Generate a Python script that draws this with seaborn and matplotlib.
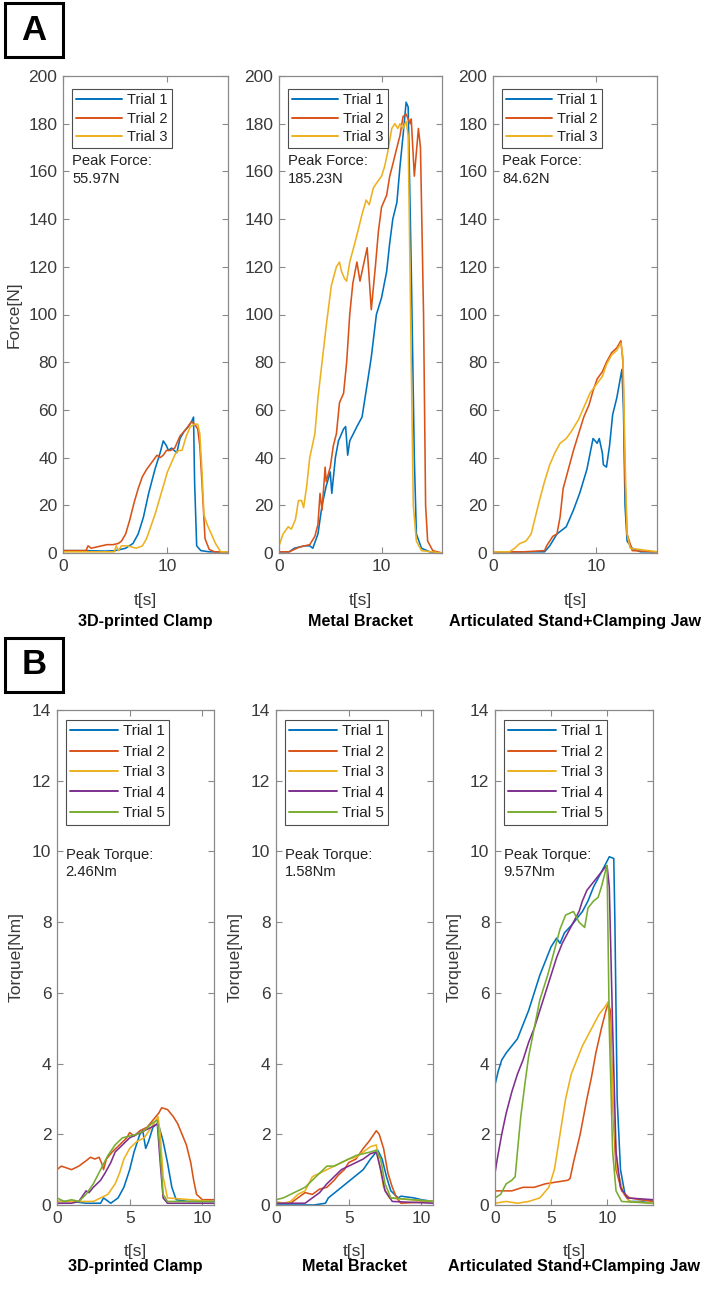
import matplotlib
matplotlib.use("Agg")
import matplotlib.pyplot as plt
import seaborn as sns

# ---- data ----
trial_colors = ["#0072BD", "#D95319", "#EDB120", "#7E2F8E", "#77AC30"]
titles = ["3D-printed Clamp", "Metal Bracket", "Articulated Stand+Clamping Jaw"]
peak_force = ["55.97N", "185.23N", "84.62N"]
peak_torque = ["2.46Nm", "1.58Nm", "9.57Nm"]
force_xlim = [15.8, 15.9, 15.9]
torque_xlim = [10.8, 10.8, 14.1]

# A: force, 3D-printed clamp
clamp_f1_t = [0, 2, 4, 5, 6, 6.7, 7.2, 7.7, 8.2, 8.8, 9.3, 9.6, 9.9, 10.1, 10.4, 10.9, 11.2, 11.6, 12.0, 12.3, 12.5, 12.6, 12.8, 13.2, 14, 15.8]
clamp_f1 = [1, 1, 0.8, 1, 2, 4, 8, 15, 25, 35, 42, 47, 45, 43, 44, 42, 48, 51, 53, 55, 57, 30, 3, 1, 0.5, 0.5]
clamp_f2_t = [0, 2.2, 2.4, 2.7, 3.2, 3.7, 4.2, 4.8, 5.3, 5.6, 6.0, 6.4, 6.8, 7.2, 7.6, 8.0, 8.5, 9.0, 9.3, 9.6, 9.9, 10.3, 10.7, 11.2, 11.8, 12.3, 12.6, 12.9, 13.1, 13.3, 13.6, 14.0, 14.5, 15.8]
clamp_f2 = [1, 1, 3, 2, 2.5, 3, 3.5, 3.5, 4, 5, 8, 14, 21, 27, 32, 35, 38, 41, 40, 41, 43, 43, 44, 49, 52, 55, 54, 52, 45, 30, 6, 1.5, 0.5, 0.5]
clamp_f3_t = [0, 4.9, 5.1, 5.3, 5.6, 6.2, 7.0, 7.6, 8.0, 8.4, 8.8, 9.2, 9.6, 10.0, 10.4, 10.8, 11.1, 11.4, 11.8, 12.2, 12.6, 12.9, 13.1, 13.3, 13.5, 13.8, 14.2, 14.6, 15.1, 15.8]
clamp_f3 = [0.5, 0.5, 3, 1, 3, 3, 2, 3, 6, 11, 16, 22, 28, 34, 38, 42, 43, 43, 49, 53, 54, 54, 50, 35, 16, 12, 8, 4, 0.5, 0.5]

# A: force, metal bracket
bracket_f1_t = [0, 1.0, 1.5, 2.5, 3.0, 3.3, 3.8, 4.2, 4.6, 5.0, 5.15, 5.5, 5.8, 6.3, 6.5, 6.7, 6.9, 7.6, 8.1, 8.5, 9.0, 9.5, 10.0, 10.5, 10.8, 11.1, 11.5, 11.8, 12.1, 12.4, 12.6, 12.9, 13.2, 13.4, 13.9, 14.7, 15.9]
bracket_f1 = [0.5, 0.5, 2, 3, 3, 2, 8, 20, 28, 34, 25, 40, 47, 52, 53, 41, 47, 53, 57, 68, 82, 100, 107, 118, 130, 140, 147, 162, 175, 189, 187, 120, 40, 8, 2, 0.5, 0]
bracket_f2_t = [0, 1.0, 2.0, 3.0, 3.5, 3.8, 4.0, 4.2, 4.5, 4.6, 5.0, 5.3, 5.6, 5.9, 6.3, 6.6, 6.9, 7.2, 7.6, 7.9, 8.2, 8.6, 8.8, 9.0, 9.4, 9.7, 10.0, 10.5, 10.8, 11.1, 11.5, 11.8, 12.1, 12.4, 12.8, 12.9, 13.2, 13.6, 13.8, 14.1, 14.3, 14.5, 15.0, 15.9]
bracket_f2 = [0.5, 0.5, 2.5, 3.5, 7, 12, 25, 18, 36, 30, 36, 45, 50, 63, 67, 80, 100, 113, 122, 114, 120, 128, 115, 102, 120, 135, 145, 150, 158, 163, 170, 175, 183, 184, 180, 182, 158, 178, 170, 100, 20, 5, 1, 0]
bracket_f3_t = [0, 0.4, 0.9, 1.2, 1.6, 1.9, 2.2, 2.4, 2.7, 3.0, 3.5, 3.8, 4.2, 4.6, 5.1, 5.6, 5.9, 6.1, 6.4, 6.6, 6.9, 7.4, 7.7, 8.1, 8.5, 8.8, 9.2, 9.5, 10.0, 10.3, 10.6, 11.0, 11.3, 11.6, 11.8, 12.1, 12.4, 12.6, 12.9, 13.1, 13.4, 13.9, 15.9]
bracket_f3 = [3, 8, 11, 10, 14, 22, 22, 19, 28, 40, 50, 65, 80, 95, 112, 120, 122, 118, 115, 114, 122, 130, 135, 142, 148, 146, 153, 155, 158, 162, 168, 178, 180, 178, 180, 178, 181, 175, 80, 20, 5, 1, 0]

# A: force, articulated stand
stand_f1_t = [0, 5.0, 5.5, 6.2, 7.1, 7.8, 8.4, 9.1, 9.7, 10.1, 10.3, 10.6, 10.7, 11.0, 11.3, 11.6, 12.0, 12.5, 12.65, 12.8, 13.0, 13.5, 14.3, 15.9]
stand_f1 = [0.5, 0.5, 3, 8, 11, 18, 25, 35, 48, 46, 48, 42, 37, 36, 45, 58, 65, 77, 60, 20, 5, 2, 0.5, 0.5]
stand_f2_t = [0, 3.0, 5.0, 5.2, 5.8, 6.2, 6.5, 6.8, 7.3, 7.8, 8.3, 8.8, 9.3, 9.7, 10.1, 10.6, 11.0, 11.5, 12.0, 12.4, 12.6, 12.8, 13.0, 13.5, 15.9]
stand_f2 = [0.5, 0.5, 1, 3, 7, 8, 15, 27, 35, 43, 50, 57, 62, 68, 73, 76, 80, 84, 86, 89, 80, 30, 8, 1, 0.5]
stand_f3_t = [0, 1.6, 2.1, 2.6, 3.2, 3.7, 4.1, 4.5, 5.0, 5.5, 6.0, 6.5, 7.1, 7.6, 8.3, 8.9, 9.4, 9.9, 10.6, 11.0, 11.5, 12.0, 12.4, 12.6, 12.8, 13.0, 13.3, 15.9]
stand_f3 = [0.5, 0.5, 2, 4, 5, 8, 15, 22, 30, 37, 42, 46, 48, 51, 56, 62, 67, 70, 74, 79, 83, 85, 88, 82, 40, 8, 2, 0.5]

# B: torque, 3D-printed clamp
clamp_m1_t = [0, 1, 2, 3.0, 3.2, 3.7, 4.2, 4.6, 5.0, 5.3, 5.7, 5.9, 6.1, 6.3, 6.6, 6.9, 7.0, 7.3, 7.6, 7.9, 8.2, 9, 10.8]
clamp_m1 = [0.1, 0.1, 0.05, 0.05, 0.2, 0.05, 0.2, 0.5, 1.0, 1.5, 2.0, 2.1, 1.6, 1.8, 2.2, 2.3, 2.25, 1.8, 1.2, 0.5, 0.15, 0.1, 0.1]
clamp_m2_t = [0, 0.3, 1.0, 1.5, 2.0, 2.3, 2.6, 2.9, 3.1, 3.2, 3.4, 3.8, 4.3, 4.8, 5.0, 5.3, 5.7, 6.2, 6.6, 7.0, 7.2, 7.6, 8.0, 8.3, 8.6, 8.9, 9.2, 9.4, 9.6, 10.0, 10.8]
clamp_m2 = [1.0, 1.1, 1.0, 1.1, 1.25, 1.35, 1.3, 1.35, 1.15, 1.0, 1.3, 1.5, 1.7, 1.9, 2.05, 1.95, 2.1, 2.2, 2.4, 2.6, 2.75, 2.7, 2.5, 2.3, 2.0, 1.7, 1.2, 0.7, 0.3, 0.15, 0.15]
clamp_m3_t = [0, 2.5, 3.0, 3.5, 4.0, 4.3, 4.6, 5.0, 5.5, 6.0, 6.5, 6.95, 7.1, 7.3, 7.6, 10.8]
clamp_m3 = [0.1, 0.1, 0.2, 0.3, 0.6, 0.9, 1.3, 1.6, 1.8, 1.9, 2.2, 2.5, 2.0, 0.8, 0.2, 0.1]
clamp_m4_t = [0, 1.0, 1.5, 2.0, 2.2, 2.5, 3.0, 3.3, 3.7, 4.0, 4.5, 5.0, 5.5, 6.0, 6.5, 6.9, 7.1, 7.3, 7.6, 10.8]
clamp_m4 = [0.05, 0.05, 0.1, 0.4, 0.35, 0.5, 0.7, 0.9, 1.2, 1.5, 1.7, 1.9, 2.0, 2.1, 2.2, 2.3, 1.2, 0.2, 0.05, 0.05]
clamp_m5_t = [0, 0.5, 1.0, 1.5, 2.0, 2.5, 3.0, 3.5, 4.0, 4.5, 5.0, 5.5, 6.0, 6.5, 6.9, 7.1, 7.3, 7.6, 10.8]
clamp_m5 = [0.2, 0.1, 0.15, 0.1, 0.3, 0.6, 1.0, 1.4, 1.7, 1.9, 1.95, 2.0, 2.1, 2.3, 2.4, 1.5, 0.3, 0.1, 0.1]

# B: torque, metal bracket
bracket_m1_t = [0, 2.6, 3.4, 3.6, 4.2, 4.8, 5.4, 6.0, 6.5, 7.0, 7.3, 7.6, 7.9, 8.4, 8.6, 9.5, 10.0, 10.8]
bracket_m1 = [0, 0, 0.05, 0.2, 0.4, 0.6, 0.8, 1.0, 1.3, 1.55, 1.3, 0.8, 0.4, 0.2, 0.25, 0.2, 0.15, 0.1]
bracket_m2_t = [0, 1.0, 1.5, 2.0, 2.5, 3.0, 3.5, 4.0, 4.3, 4.7, 5.0, 5.5, 6.0, 6.4, 6.9, 7.1, 7.4, 7.7, 8.0, 8.3, 8.6, 10.8]
bracket_m2 = [0.05, 0.05, 0.2, 0.35, 0.3, 0.45, 0.5, 0.7, 0.85, 1.0, 1.2, 1.3, 1.6, 1.8, 2.1, 2.0, 1.6, 0.9, 0.5, 0.2, 0.05, 0.1]
bracket_m3_t = [0, 0.5, 1.0, 1.5, 2.0, 2.5, 3.0, 3.5, 4.0, 4.5, 5.0, 5.5, 6.0, 6.5, 6.9, 7.1, 7.4, 7.8, 10.8]
bracket_m3 = [0.1, 0.05, 0.1, 0.3, 0.4, 0.8, 0.9, 1.0, 1.1, 1.2, 1.3, 1.35, 1.5, 1.65, 1.7, 1.2, 0.5, 0.2, 0.1]
bracket_m4_t = [0, 1.5, 2.0, 2.5, 3.0, 3.5, 4.0, 4.5, 5.0, 5.5, 6.0, 6.5, 6.9, 7.2, 7.5, 8.0, 10.8]
bracket_m4 = [0.05, 0.05, 0.05, 0.2, 0.35, 0.6, 0.8, 1.0, 1.1, 1.2, 1.3, 1.45, 1.5, 1.0, 0.4, 0.1, 0.05]
bracket_m5_t = [0, 0.5, 1.0, 1.5, 2.0, 2.5, 3.0, 3.5, 4.0, 4.5, 5.0, 5.5, 6.0, 6.5, 6.9, 7.2, 7.5, 7.9, 10.8]
bracket_m5 = [0.15, 0.2, 0.3, 0.4, 0.5, 0.7, 0.9, 1.1, 1.1, 1.2, 1.3, 1.4, 1.45, 1.5, 1.55, 1.3, 0.6, 0.2, 0.1]

# B: torque, articulated stand
stand_m1_t = [0, 0.3, 0.6, 1.0, 1.5, 2.0, 2.5, 3.0, 3.5, 4.0, 4.5, 5.0, 5.5, 5.8, 6.2, 6.8, 7.3, 7.8, 8.3, 8.8, 9.3, 9.8, 10.2, 10.6, 10.7, 10.9, 11.2, 11.6, 12.0, 13.0, 14.1]
stand_m1 = [3.4, 3.8, 4.1, 4.3, 4.5, 4.7, 5.1, 5.5, 6.0, 6.5, 6.9, 7.3, 7.55, 7.4, 7.7, 7.9, 8.1, 8.3, 8.6, 9.0, 9.3, 9.6, 9.85, 9.8, 8.0, 3.0, 1.0, 0.3, 0.1, 0.1, 0.15]
stand_m2_t = [0, 1.5, 2.5, 3.5, 4.5, 5.5, 6.5, 6.7, 7.0, 7.6, 8.2, 8.6, 9.0, 9.5, 9.9, 10.1, 10.3, 10.5, 10.8, 11.3, 12.0, 13.0, 14.1]
stand_m2 = [0.4, 0.4, 0.5, 0.5, 0.6, 0.65, 0.7, 0.75, 1.2, 2.0, 3.0, 3.6, 4.3, 5.0, 5.5, 5.7, 5.5, 3.0, 1.0, 0.4, 0.2, 0.15, 0.1]
stand_m3_t = [0, 1.0, 2.0, 3.0, 4.0, 4.8, 5.3, 5.8, 6.3, 6.8, 7.3, 7.8, 8.3, 8.8, 9.3, 9.8, 10.1, 10.3, 10.5, 10.9, 11.5, 12.0, 14.1]
stand_m3 = [0.05, 0.1, 0.05, 0.1, 0.2, 0.5, 1.0, 2.0, 3.0, 3.7, 4.1, 4.5, 4.8, 5.1, 5.4, 5.6, 5.75, 5.0, 3.0, 1.0, 0.3, 0.1, 0.05]
stand_m4_t = [0, 0.2, 0.6, 1.0, 1.5, 2.0, 2.5, 3.0, 3.5, 4.0, 4.5, 5.0, 5.5, 6.0, 6.5, 7.0, 7.5, 7.8, 8.2, 8.7, 9.2, 9.7, 10.0, 10.2, 10.5, 10.8, 11.2, 11.8, 14.1]
stand_m4 = [0.9, 1.3, 2.0, 2.6, 3.2, 3.7, 4.1, 4.6, 5.0, 5.5, 6.0, 6.5, 7.0, 7.4, 7.7, 8.0, 8.3, 8.6, 8.9, 9.1, 9.3, 9.5, 9.6, 9.0, 5.0, 1.5, 0.5, 0.2, 0.15]
stand_m5_t = [0, 0.5, 1.0, 1.5, 1.8, 2.0, 2.3, 2.7, 3.0, 3.5, 4.0, 4.7, 5.3, 5.8, 6.3, 7.0, 7.5, 8.0, 8.3, 8.8, 9.2, 9.5, 9.9, 10.0, 10.2, 10.5, 10.8, 11.3, 14.1]
stand_m5 = [0.2, 0.3, 0.6, 0.7, 0.8, 1.5, 2.5, 3.5, 4.2, 5.0, 5.8, 6.5, 7.2, 7.8, 8.2, 8.3, 8.0, 7.85, 8.4, 8.6, 8.7, 9.0, 9.5, 9.6, 5.0, 1.5, 0.4, 0.1, 0.05]

force_series = [
    [(clamp_f1_t, clamp_f1), (clamp_f2_t, clamp_f2), (clamp_f3_t, clamp_f3)],
    [(bracket_f1_t, bracket_f1), (bracket_f2_t, bracket_f2), (bracket_f3_t, bracket_f3)],
    [(stand_f1_t, stand_f1), (stand_f2_t, stand_f2), (stand_f3_t, stand_f3)],
]
torque_series = [
    [(clamp_m1_t, clamp_m1), (clamp_m2_t, clamp_m2), (clamp_m3_t, clamp_m3),
     (clamp_m4_t, clamp_m4), (clamp_m5_t, clamp_m5)],
    [(bracket_m1_t, bracket_m1), (bracket_m2_t, bracket_m2), (bracket_m3_t, bracket_m3),
     (bracket_m4_t, bracket_m4), (bracket_m5_t, bracket_m5)],
    [(stand_m1_t, stand_m1), (stand_m2_t, stand_m2), (stand_m3_t, stand_m3),
     (stand_m4_t, stand_m4), (stand_m5_t, stand_m5)],
]

sns.set_theme(style="white")
plt.rcParams["font.family"] = ["Liberation Sans", "DejaVu Sans"]

W, H = 709, 1291
fig = plt.figure(figsize=(W / 100, H / 100), dpi=100)

SPINE = "#8a8a8a"
TXT = "#3a3a3a"


def px_axes(left, right, top, bottom):
    return fig.add_axes([left / W, 1 - bottom / H, (right - left) / W, (bottom - top) / H])


def style_axes(ax, xlim, ylim, xticks, yticks):
    ax.set_xlim(0, xlim)
    ax.set_ylim(*ylim)
    ax.set_xticks(xticks)
    ax.set_yticks(yticks)
    for s in ax.spines.values():
        s.set_color(SPINE)
        s.set_linewidth(0.9)
    ax.tick_params(direction="in", length=4, width=0.8, color=SPINE,
                   labelcolor=TXT, labelsize=12.5, top=True, right=True,
                   bottom=True, left=True, pad=4)


def draw_panel(ax, series, peak_label, peak_value, legend_top, text_top,
               leg_size, leg_spacing):
    for i, (t, v) in enumerate(series):
        sns.lineplot(x=t, y=v, ax=ax, color=trial_colors[i], linewidth=1.15,
                     label=f"Trial {i + 1}", estimator=None, sort=False)
    leg = ax.legend(loc="upper left", bbox_to_anchor=(0.055, legend_top),
                    borderaxespad=0, fontsize=leg_size, frameon=True, fancybox=False,
                    framealpha=1, edgecolor="#4d4d4d", handlelength=3.1,
                    handletextpad=0.35, borderpad=0.3, labelspacing=leg_spacing)
    leg.get_frame().set_linewidth(0.8)
    for line in leg.get_lines():
        line.set_linewidth(1.4)
    for txt in leg.get_texts():
        txt.set_color("#222222")
    ax.text(0.055, text_top, f"{peak_label}\n{peak_value}", transform=ax.transAxes,
            ha="left", va="top", fontsize=10.6, color="#222222", linespacing=1.3)


def panel_box(letter, top, bottom):
    fig.patches.append(plt.Rectangle((5 / W, 1 - bottom / H), 58 / W, (bottom - top) / H,
                                     transform=fig.transFigure, fill=False,
                                     edgecolor="black", linewidth=2.2))
    fig.text(34 / W, 1 - (top + bottom) / 2 / H, letter, ha="center", va="center",
             fontsize=25, fontweight="bold", color="black")


# ---- row A: force ----
panel_box("A", 3, 57)
a_left = [63, 279, 493]
a_right = [228, 442, 657]
a_top, a_bottom = 76, 553
for k in range(3):
    ax = px_axes(a_left[k], a_right[k], a_top, a_bottom)
    draw_panel(ax, force_series[k], "Peak Force:", peak_force[k], 0.973, 0.836, 10.5, 0.3)
    style_axes(ax, force_xlim[k], (0, 200), [0, 10], range(0, 201, 20))
    ax.set_xlabel("t[s]", fontsize=12.5, color=TXT)
    ax.xaxis.set_label_coords(0.5, -0.083)
    if k == 0:
        ax.set_ylabel("Force[N]", fontsize=12.5, color=TXT)
        ax.yaxis.set_label_coords(-0.25, 0.5)
    else:
        ax.set_ylabel("")
    ax.text(0.5, -0.143, titles[k], transform=ax.transAxes, ha="center", va="center",
            fontsize=11.6, fontweight="bold", color="black")

# ---- row B: torque ----
panel_box("B", 638, 692)
b_left = [57, 276, 495]
b_right = [214, 433, 653]
b_top, b_bottom = 710, 1205
for k in range(3):
    ax = px_axes(b_left[k], b_right[k], b_top, b_bottom)
    draw_panel(ax, torque_series[k], "Peak Torque:", peak_torque[k], 0.98, 0.722, 11, 0.42)
    style_axes(ax, torque_xlim[k], (0, 14), [0, 5, 10], range(0, 15, 2))
    ax.set_xlabel("t[s]", fontsize=12.5, color=TXT)
    ax.xaxis.set_label_coords(0.5, -0.079)
    ax.set_ylabel("Torque[Nm]", fontsize=12.5, color=TXT)
    ax.yaxis.set_label_coords(-0.21, 0.5)
    ax.text(0.5, -0.124, titles[k], transform=ax.transAxes, ha="center", va="center",
            fontsize=11.6, fontweight="bold", color="black")

fig.savefig("out.png", dpi=100, facecolor="white")
